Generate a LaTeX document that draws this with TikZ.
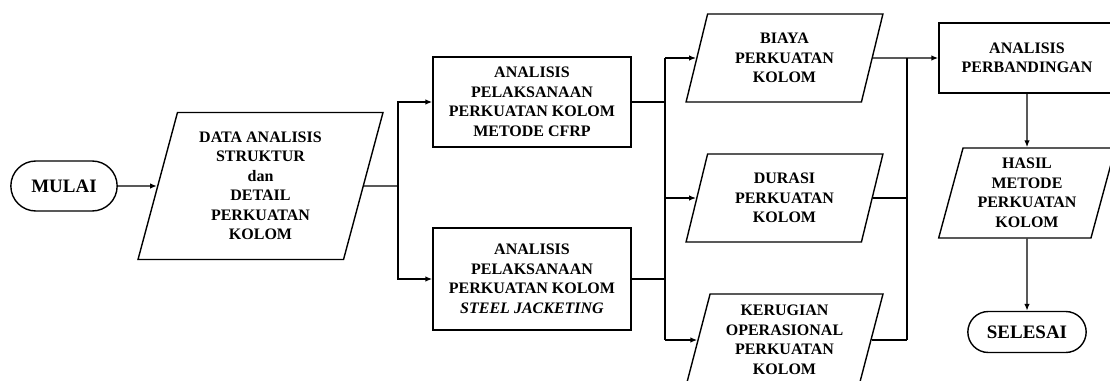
\documentclass[tikz,border=0pt]{standalone}
\usepackage{fontspec}
\setmainfont{Liberation Serif}
\usetikzlibrary{shapes.geometric, shapes.misc, arrows.meta, positioning, calc}

\tikzset{
  teks/.style={align=center, font=\bfseries\fontsize{16}{19.5}\selectfont, inner sep=2pt},
  proses/.style={teks, draw, rectangle, line width=1.4pt},
  dataio/.style={teks, draw, trapezium, trapezium left angle=75,
    trapezium right angle=105, trapezium stretches=true, line width=1.4pt},
  terminal/.style={draw, rounded rectangle, line width=1.4pt,
    font=\bfseries\fontsize{19}{22}\selectfont},
  garis/.style={line width=1.4pt},
  panah/.style={garis, -{Latex[length=7pt,width=5.5pt]}}
}

\begin{document}
\begin{tikzpicture}[x=1pt, y=-1pt]
  \path[use as bounding box, clip] (0,0) rectangle (1110,380);

  % Mulai dan data masukan
  \node[terminal, minimum width=113pt, minimum height=50pt] (mulai) at (64,186) {MULAI};
  \node[dataio, minimum width=245pt, minimum height=147pt] (data) at (260.5,186)
    {DATA ANALISIS\\STRUKTUR\\dan\\DETAIL\\PERKUATAN\\KOLOM};

  % Analisis pelaksanaan
  \node[proses, minimum width=198pt, minimum height=90pt] (cfrp) at (532,102)
    {ANALISIS\\PELAKSANAAN\\PERKUATAN KOLOM\\METODE CFRP};
  \node[proses, minimum width=198pt, minimum height=102pt] (steel) at (532,279)
    {ANALISIS\\PELAKSANAAN\\PERKUATAN KOLOM\\\textit{STEEL JACKETING}};

  % Keluaran analisis
  \node[dataio, minimum width=197pt, minimum height=88pt] (biaya) at (784.5,58)
    {BIAYA\\PERKUATAN\\KOLOM};
  \node[dataio, minimum width=197pt, minimum height=88pt] (durasi) at (784.5,198)
    {DURASI\\PERKUATAN\\KOLOM};
  \node[dataio, minimum width=197pt, minimum height=92pt] (kerugian) at (784.5,340)
    {KERUGIAN\\OPERASIONAL\\PERKUATAN\\KOLOM};

  % Perbandingan dan hasil
  \node[proses, minimum width=176pt, minimum height=70pt] (banding) at (1027,58)
    {ANALISIS\\PERBANDINGAN};
  \node[dataio, minimum width=177pt, minimum height=90pt] (hasil) at (1027,193)
    {HASIL\\METODE\\PERKUATAN\\KOLOM};
  \node[terminal, minimum width=125pt, minimum height=41pt] (selesai) at (1027,332) {SELESAI};

  % Titik cabang
  \coordinate (c1) at (398,186);
  \coordinate (c2) at (665,200);
  \coordinate (c3) at (907,200);

  % Garis alir
  \draw[panah] (mulai.east) -- (data.west);
  \draw[garis] (data.east) -- (c1);
  \draw[panah] (c1) |- (cfrp.west);
  \draw[panah] (c1) |- (steel.west);
  \draw[garis] (cfrp.east) -- (cfrp.east -| c2);
  \draw[garis] (steel.east) -- (steel.east -| c2);
  \draw[garis] (c2 |- biaya.west) -- (c2 |- kerugian.west);
  \foreach \n in {biaya,durasi,kerugian}
    \draw[panah] (c2 |- \n.west) -- (\n.west);
  \draw[panah] (biaya.east) -- (banding.west);
  \draw[garis] (durasi.east) -- (durasi.east -| c3);
  \draw[garis] (kerugian.east) -- (kerugian.east -| c3);
  \draw[garis] (c3 |- biaya.east) -- (c3 |- kerugian.east);
  \draw[panah] (banding.south) -- (hasil.north);
  \draw[panah] (hasil.south) -- (selesai.north);
\end{tikzpicture}
\end{document}
